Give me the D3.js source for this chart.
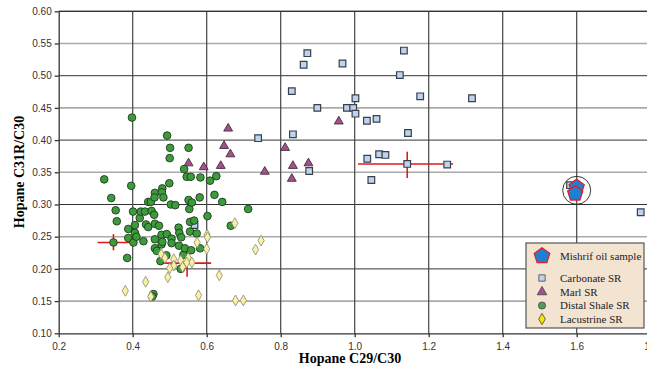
<!DOCTYPE html>
<html>
<head>
<meta charset="utf-8">
<script src="https://cdn.jsdelivr.net/npm/d3@7"></script>
<style>
  body { margin: 0; background: #fff; }
  svg { display: block; }
</style>
</head>
<body>
<svg width="647" height="368"></svg>
<script>
// values: [C29/C30, C31R/C30]
const carbonateSR = [
  [0.872, 0.535], [0.862, 0.517], [0.967, 0.519], [1.133, 0.539], [1.122, 0.501],
  [0.830, 0.476], [1.002, 0.465], [1.177, 0.468], [1.317, 0.465], [0.899, 0.450],
  [0.979, 0.450], [0.996, 0.450], [1.002, 0.441], [1.033, 0.430], [1.059, 0.433],
  [1.144, 0.411], [0.739, 0.403], [0.833, 0.409], [1.034, 0.371], [1.066, 0.378],
  [1.083, 0.377], [1.142, 0.363], [1.250, 0.362], [0.877, 0.352], [1.045, 0.338],
  [1.582, 0.330], [1.773, 0.288], [0.567, 0.268]
];
const marlSR = [
  [0.658, 0.418], [0.647, 0.391], [0.664, 0.378], [0.551, 0.364], [0.592, 0.358],
  [0.638, 0.360], [0.757, 0.351], [0.812, 0.388], [0.833, 0.360], [0.830, 0.340],
  [0.875, 0.364], [0.957, 0.429]
];
const distalShaleSR = [
  [0.323, 0.339], [0.342, 0.310], [0.354, 0.291], [0.357, 0.274], [0.348, 0.241],
  [0.385, 0.217], [0.396, 0.329], [0.398, 0.435], [0.388, 0.262], [0.388, 0.248],
  [0.401, 0.289], [0.406, 0.268], [0.402, 0.241], [0.406, 0.256], [0.410, 0.250],
  [0.419, 0.279], [0.422, 0.289], [0.433, 0.289], [0.429, 0.243], [0.436, 0.269],
  [0.442, 0.265], [0.442, 0.304], [0.449, 0.304], [0.451, 0.290], [0.458, 0.284],
  [0.460, 0.270], [0.460, 0.318], [0.459, 0.311], [0.471, 0.267], [0.460, 0.246],
  [0.460, 0.232], [0.465, 0.228], [0.478, 0.238], [0.480, 0.325], [0.479, 0.319],
  [0.483, 0.311], [0.475, 0.212], [0.456, 0.161], [0.453, 0.157], [0.493, 0.407],
  [0.501, 0.388], [0.500, 0.372], [0.499, 0.333], [0.503, 0.300], [0.515, 0.299],
  [0.478, 0.253], [0.492, 0.254], [0.505, 0.247], [0.505, 0.240], [0.480, 0.242],
  [0.491, 0.221], [0.524, 0.264], [0.526, 0.256], [0.531, 0.249], [0.525, 0.236],
  [0.530, 0.200], [0.537, 0.222], [0.541, 0.232], [0.539, 0.355], [0.546, 0.343],
  [0.551, 0.388], [0.557, 0.343], [0.551, 0.307], [0.553, 0.293], [0.560, 0.303],
  [0.555, 0.273], [0.566, 0.275], [0.558, 0.229], [0.555, 0.258], [0.573, 0.255],
  [0.582, 0.232], [0.581, 0.311], [0.583, 0.342], [0.602, 0.282], [0.609, 0.337],
  [0.621, 0.315], [0.626, 0.344], [0.642, 0.304], [0.712, 0.293], [0.665, 0.267]
];
const lacustrineSR = [
  [0.380, 0.166], [0.435, 0.180], [0.449, 0.157], [0.495, 0.187], [0.477, 0.223],
  [0.487, 0.217], [0.511, 0.215], [0.511, 0.205], [0.500, 0.201], [0.530, 0.213],
  [0.535, 0.203], [0.550, 0.217], [0.560, 0.210], [0.546, 0.210], [0.574, 0.241],
  [0.578, 0.159], [0.601, 0.253], [0.602, 0.249], [0.600, 0.231], [0.634, 0.190],
  [0.676, 0.271], [0.747, 0.244], [0.732, 0.230], [0.678, 0.151], [0.699, 0.151]
];
const mishrifOil = [[1.600, 0.327], [1.596, 0.317]];

// group means with ranges: [x, y, xLo, xHi, yLo, yHi]
const groupMeans = [
  [0.348, 0.241, 0.305, 0.393, 0.229, 0.254],
  [0.547, 0.209, 0.485, 0.612, 0.188, 0.226],
  [1.142, 0.363, 1.009, 1.266, 0.341, 0.382]
];

const xTicks = [0.2, 0.4, 0.6, 0.8, 1.0, 1.2, 1.4, 1.6, 1.8];
const yTicks = [0.10, 0.15, 0.20, 0.25, 0.30, 0.35, 0.40, 0.45, 0.50, 0.55, 0.60];
const legendLabels = ["Mishrif oil sample", "Carbonate SR", "Marl SR", "Distal Shale SR", "Lacustrine SR"];

const svg = d3.select("svg");

const x = d3.scaleLinear().domain([0.2, 1.8]).range([58.7, 650.7]);
const y = d3.scaleLinear().domain([0.1, 0.6]).range([333.3, 11.3]);

// grid
const grid = svg.append("g");
grid.selectAll(".hg")
  .data(yTicks.slice(1))
  .enter().append("line")
  .attr("x1", x(0.2)).attr("x2", x(1.8))
  .attr("y1", d => y(d)).attr("y2", d => y(d))
  .attr("stroke", (d, i) => i % 2 === 0 ? "#aaa" : "#333")
  .attr("stroke-width", (d, i) => i % 2 === 0 ? 1.6 : 1);
grid.selectAll(".vg")
  .data(xTicks.slice(1))
  .enter().append("line")
  .attr("x1", d => x(d)).attr("x2", d => x(d))
  .attr("y1", y(0.1)).attr("y2", y(0.6))
  .attr("stroke", "#444")
  .attr("stroke-width", 1.2);

// axes
const xAxis = d3.axisBottom(x).tickValues(xTicks).tickSize(4).tickSizeOuter(0)
  .tickFormat(d3.format(".1f"));
const yAxis = d3.axisLeft(y).tickValues(yTicks).tickSize(4).tickSizeOuter(0)
  .tickFormat(d3.format(".2f"));

svg.append("g")
  .attr("transform", `translate(0,${y(0.1)})`)
  .call(xAxis)
  .call(g => g.selectAll("text").attr("dy", "0.95em"));
svg.append("g")
  .attr("transform", `translate(${x(0.2)},0)`)
  .call(yAxis);
svg.selectAll(".tick text")
  .attr("font-family", "Liberation Sans, Arial, sans-serif")
  .attr("font-size", 10)
  .attr("fill", "#333");
svg.selectAll(".domain, .tick line").attr("stroke", "#333").attr("stroke-width", 1.3);

svg.append("line")
  .attr("x1", x(0.2)).attr("x2", x(1.8))
  .attr("y1", y(0.6)).attr("y2", y(0.6))
  .attr("stroke", "#333").attr("stroke-width", 1.3);

svg.append("text")
  .attr("x", 350).attr("y", 363)
  .attr("text-anchor", "middle")
  .attr("font-family", "Liberation Serif, Times New Roman, serif")
  .attr("font-weight", "bold").attr("font-size", 14)
  .text("Hopane C29/C30");
svg.append("text")
  .attr("transform", "translate(24,172) rotate(-90)")
  .attr("text-anchor", "middle")
  .attr("font-family", "Liberation Serif, Times New Roman, serif")
  .attr("font-weight", "bold").attr("font-size", 14)
  .text("Hopane C31R/C30");

// mean crosses
const crosses = svg.append("g").attr("stroke", "#e01818").attr("stroke-width", 1.6);
crosses.selectAll(".h").data(groupMeans).enter().append("line")
  .attr("x1", d => x(d[2])).attr("x2", d => x(d[3]))
  .attr("y1", d => y(d[1])).attr("y2", d => y(d[1]));
crosses.selectAll(".v").data(groupMeans).enter().append("line")
  .attr("x1", d => x(d[0])).attr("x2", d => x(d[0]))
  .attr("y1", d => y(d[4])).attr("y2", d => y(d[5]));

// symbols
const pentagon = {
  draw(ctx, size) {
    const r = Math.sqrt(size / 2.3776);
    for (let i = 0; i < 5; i++) {
      const a = -Math.PI / 2 + i * 2 * Math.PI / 5;
      const px = r * Math.cos(a), py = r * Math.sin(a);
      if (i === 0) ctx.moveTo(px, py); else ctx.lineTo(px, py);
    }
    ctx.closePath();
  }
};

const styles = {
  carbonate: { type: d3.symbolSquare, size: 44, fill: "#bcd4f0", stroke: "#3a3f4a", sw: 1.2 },
  marl: { type: d3.symbolTriangle, size: 34, fill: "#a4508e", stroke: "#40303a", sw: 0.9 },
  shale: { type: d3.symbolCircle, size: 46, fill: "#3c9c3c", stroke: "#1f3a1f", sw: 0.9 },
  lacustrine: { type: d3.symbolDiamond, size: 34, fill: "#f7f0a6", stroke: "#8a8a70", sw: 0.8 },
  mishrif: { type: pentagon, size: 150, fill: "#1f7fd0", stroke: "#e0202a", sw: 1.3 }
};

function drawSeries(data, st) {
  svg.append("g").selectAll("path")
    .data(data)
    .enter().append("path")
    .attr("transform", d => `translate(${x(d[0])},${y(d[1])})`)
    .attr("d", d3.symbol().type(st.type).size(st.size))
    .attr("fill", st.fill)
    .attr("stroke", st.stroke)
    .attr("stroke-width", st.sw);
}

drawSeries(carbonateSR, styles.carbonate);
drawSeries(marlSR, styles.marl);
drawSeries(distalShaleSR, styles.shale);
drawSeries(lacustrineSR, styles.lacustrine);
drawSeries(mishrifOil, styles.mishrif);

// ring around the oil samples
svg.append("circle")
  .attr("cx", x(1.6)).attr("cy", y(0.322)).attr("r", 14)
  .attr("fill", "none").attr("stroke", "#222").attr("stroke-width", 0.9);

// legend
const legend = svg.append("g").attr("transform", "translate(526,243)");
legend.append("rect")
  .attr("width", 118).attr("height", 85)
  .attr("fill", "#f3e4d2")
  .attr("stroke", "#555").attr("stroke-width", 1.2);

const legendStyles = [styles.mishrif, styles.carbonate, styles.marl, styles.shale, styles.lacustrine];
const legendY = [13, 35, 49, 62.5, 76];
const legendSizes = [160, 40, 40, 40, 38];

legend.selectAll(".sym")
  .data(legendLabels)
  .enter().append("path")
  .attr("transform", (d, i) => `translate(16,${legendY[i]})`)
  .attr("d", (d, i) => d3.symbol().type(legendStyles[i].type).size(legendSizes[i])())
  .attr("fill", (d, i) => i === 4 ? "#f5e800" : i === 3 ? "#4f9d5a" : legendStyles[i].fill)
  .attr("stroke", (d, i) => i === 0 ? legendStyles[i].stroke : "#444")
  .attr("stroke-width", (d, i) => i === 0 ? 1.3 : 0.8);

legend.selectAll(".lab")
  .data(legendLabels)
  .enter().append("text")
  .attr("x", 34)
  .attr("y", (d, i) => legendY[i])
  .attr("dy", "0.35em")
  .attr("font-family", "Liberation Serif, Times New Roman, serif")
  .attr("font-size", 11)
  .attr("fill", "#222")
  .text(d => d);
</script>
</body>
</html>
